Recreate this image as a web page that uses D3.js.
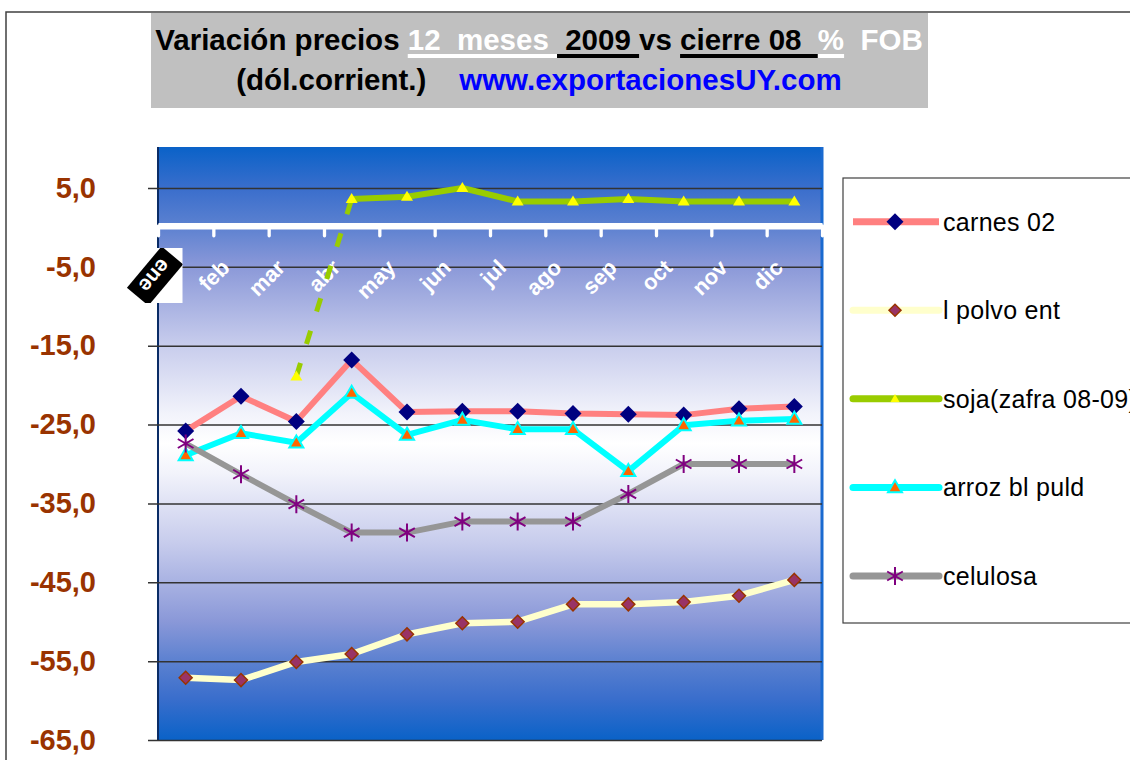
<!DOCTYPE html>
<html lang="es">
<head>
<meta charset="UTF-8">
<title>Variación precios 12 meses 2009 vs cierre 08</title>
<script src="https://d3js.org/d3.v7.min.js"></script>
<style>
    body { margin: 0; background: #fff; }
    svg { display: block; font-family: 'Liberation Sans', Arial, sans-serif; }
</style>
</head>
<body>
<div id="chart"></div>
<script>
    // data (% change, 2009 vs close of 08)
    var months = ['ene', 'feb', 'mar', 'abr', 'may', 'jun', 'jul', 'ago', 'sep', 'oct', 'nov', 'dic'];
    var carnes = [-25.8, -21.4, -24.6, -16.8, -23.4, -23.3, -23.3, -23.6, -23.7, -23.8, -23.0, -22.7];
    var lechePolvo = [-57.1, -57.4, -55.1, -54.1, -51.6, -50.2, -50.0, -47.8, -47.8, -47.5, -46.7, -44.7];
    var soja = [null, null, -18.9, 3.6, 3.9, 5.0, 3.3, 3.3, 3.6, 3.3, 3.3, 3.3];
    var arroz = [-28.9, -26.1, -27.3, -21.0, -26.3, -24.4, -25.6, -25.6, -30.9, -25.1, -24.5, -24.3];
    var celulosa = [-27.4, -31.3, -35.1, -38.7, -38.7, -37.3, -37.3, -37.3, -33.8, -30.0, -30.0, -30.0];
    var seriesNames = ['carnes 02', 'l polvo ent', 'soja(zafra 08-09)', 'arroz bl puld', 'celulosa'];
    var yTicks = [5, -5, -15, -25, -35, -45, -55, -65];
    var yTickLabels = ['5,0', '-5,0', '-15,0', '-25,0', '-35,0', '-45,0', '-55,0', '-65,0'];

    var width = 1130, height = 760;
    var plot = {left: 158, right: 822, top: 147, bottom: 740};

    var svg = d3.select('#chart').append('svg')
        .attr('width', width)
        .attr('height', height);

    // chart frame
    svg.append('rect')
        .attr('x', 6).attr('y', 12)
        .attr('width', 1300).attr('height', 900)
        .attr('fill', '#fff')
        .attr('stroke', '#404040')
        .attr('stroke-width', 1.5);

    // ---- title ----
    svg.append('rect')
        .attr('x', 151).attr('y', 13)
        .attr('width', 777).attr('height', 95)
        .attr('fill', '#c0c0c0');

    var title1 = [
        {t: 'Variación precios ', c: '#000'},
        {t: '12  meses ', c: '#fff', u: '#fff'},
        {t: ' 2009 ', c: '#000', u: '#000'},
        {t: 'vs ', c: '#000'},
        {t: 'cierre 08  ', c: '#000', u: '#000'},
        {t: '%', c: '#fff', u: '#fff'},
        {t: '  FOB', c: '#fff'}
    ];
    var title2 = [
        {t: '(dól.corrient.)    ', c: '#000'},
        {t: 'www.exportacionesUY.com', c: '#0000ff'}
    ];

    function titleLine(parts, y) {
        var txt = svg.append('text')
            .attr('x', 539).attr('y', y)
            .attr('text-anchor', 'middle')
            .attr('xml:space', 'preserve')
            .style('white-space', 'pre')
            .style('font-size', '29.5px')
            .style('font-weight', 'bold');
        txt.selectAll('tspan').data(parts).enter().append('tspan')
            .attr('fill', d => d.c)
            .text(d => d.t);
        // thick underlines like the original
        var node = txt.node(), pos = 0;
        parts.forEach(function(p) {
            if (p.u) {
                var x0 = node.getStartPositionOfChar(pos).x;
                var x1 = node.getEndPositionOfChar(pos + p.t.length - 1).x;
                svg.append('rect')
                    .attr('x', x0).attr('y', y + 4)
                    .attr('width', x1 - x0).attr('height', 4)
                    .attr('fill', p.u);
            }
            pos += p.t.length;
        });
    }
    titleLine(title1, 50);
    titleLine(title2, 90);

    // ---- scales ----
    var x = d3.scaleBand().domain(months).range([plot.left, plot.right]);
    var xc = m => x(m) + x.bandwidth() / 2;
    var xEdge = d3.scaleLinear().domain([0, months.length]).range([plot.left, plot.right]);
    var y = d3.scaleLinear().domain([-65, 10.2]).range([plot.bottom, plot.top]);

    // plot background gradient
    var grad = svg.append('defs').append('linearGradient')
        .attr('id', 'bg').attr('x1', 0).attr('y1', 0).attr('x2', 0).attr('y2', 1);
    [[0, '#0a62c8'], [0.07, '#3a6ecc'], [0.13, '#5a80d0'], [0.2, '#8a98d8'], [0.33, '#c6cbec'],
     [0.45, '#f2f3fb'], [0.5, '#ffffff'], [0.55, '#f2f3fb'], [0.67, '#c6cbec'], [0.8, '#8a98d8'],
     [0.87, '#5a80d0'], [0.93, '#3a6ecc'], [1, '#0a62c8']].forEach(function(s) {
        grad.append('stop').attr('offset', s[0]).attr('stop-color', s[1]);
    });

    svg.append('rect')
        .attr('x', plot.left).attr('y', plot.top)
        .attr('width', plot.right - plot.left).attr('height', plot.bottom - plot.top)
        .attr('fill', 'url(#bg)');
    svg.append('line')
        .attr('x1', plot.right).attr('x2', plot.right)
        .attr('y1', plot.top).attr('y2', plot.bottom)
        .attr('stroke', '#1a6ad0').attr('stroke-width', 3);
    svg.append('line')
        .attr('x1', plot.left).attr('x2', plot.left)
        .attr('y1', plot.top).attr('y2', plot.bottom)
        .attr('stroke', '#0a2c66').attr('stroke-width', 2);

    // y axis with gridlines
    var yAxis = d3.axisLeft(y)
        .tickValues(yTicks)
        .tickSize(-(plot.right - 148))
        .tickPadding(52)
        .tickFormat((d, i) => yTickLabels[i]);
    var gy = svg.append('g')
        .attr('transform', 'translate(148,0)')
        .call(yAxis);
    gy.select('.domain').remove();
    gy.selectAll('.tick line').attr('stroke', '#333').attr('stroke-width', 1.5);
    gy.selectAll('.tick text')
        .attr('fill', '#993300')
        .style('font-size', '29px')
        .style('font-weight', 'bold')
        .style('font-family', "'Liberation Sans', Arial, sans-serif");

    // x axis: thick white line at 0 with ticks between categories
    var xAxis = d3.axisBottom(xEdge)
        .tickValues(d3.range(months.length + 1))
        .tickSize(10)
        .tickSizeOuter(0)
        .tickFormat('');
    var gx = svg.append('g')
        .attr('transform', 'translate(0,' + (y(0) - 1.6) + ')')
        .call(xAxis);
    gx.select('.domain').attr('stroke', '#fff').attr('stroke-width', 6.5);
    gx.selectAll('.tick line')
        .attr('stroke', '#fff').attr('stroke-width', 3.3).attr('stroke-linecap', 'round');

    // month labels
    svg.append('g').selectAll('text')
        .data(months.slice(1))
        .enter().append('text')
        .attr('text-anchor', 'end')
        .attr('transform', d => 'translate(' + (xc(d) - 10) + ',269) rotate(-45)')
        .attr('fill', '#fff')
        .style('font-size', '22px')
        .style('font-weight', 'bold')
        .text(d => d);

    // the first label is shown highlighted (black box)
    var eneX = plot.left - 3;
    svg.append('rect')
        .attr('x', eneX).attr('y', 248)
        .attr('width', 27.5).attr('height', 55)
        .attr('fill', '#fff');
    svg.append('clipPath').attr('id', 'eneclip')
        .append('rect').attr('x', 100).attr('y', 248).attr('width', eneX + 27.5 - 100).attr('height', 55);
    var ene = svg.append('g').attr('clip-path', 'url(#eneclip)')
        .append('g').attr('transform', 'translate(' + eneX + ',276) rotate(-50)');
    ene.append('rect')
        .attr('x', -27).attr('y', -14).attr('width', 54).attr('height', 28)
        .attr('fill', '#000');
    ene.append('text')
        .attr('transform', 'rotate(180)')
        .attr('text-anchor', 'middle')
        .attr('dy', '0.36em')
        .attr('fill', '#fff')
        .style('font-size', '21px')
        .style('font-weight', 'bold')
        .text(months[0]);

    // ---- markers ----
    function diamond(r) { return 'M0,' + (-r) + 'L' + r + ',0L0,' + r + 'L' + (-r) + ',0Z'; }
    function triangle(w, h) { return 'M0,' + (-h * 0.6) + 'L' + (w / 2) + ',' + (h * 0.4) + 'L' + (-w / 2) + ',' + (h * 0.4) + 'Z'; }
    function asterisk(r) {
        var a = r * 0.87, b = r * 0.5;
        return 'M0,' + (-r) + 'V' + r + 'M' + (-a) + ',' + (-b) + 'L' + a + ',' + b + 'M' + (-a) + ',' + b + 'L' + a + ',' + (-b);
    }

    var styles = [
        {line: '#ff8080', cap: 'butt', marker: diamond(8.5), fill: '#000080', stroke: 'none', sw: 0, legendMarker: diamond(8.5)},
        {line: '#ffffcc', cap: 'round', marker: diamond(6.5), fill: '#993366', stroke: '#993300', sw: 1.5, legendMarker: diamond(6)},
        {line: '#99cc00', cap: 'round', marker: triangle(12, 10), fill: '#ffff00', stroke: 'none', sw: 0, legendMarker: triangle(9, 8)},
        {line: '#00ffff', cap: 'round', marker: triangle(14, 12), fill: '#ff6600', stroke: '#00ffff', sw: 2, legendMarker: triangle(14, 12)},
        {line: '#969696', cap: 'round', marker: asterisk(9), fill: 'none', stroke: '#800080', sw: 2, legendMarker: asterisk(9)}
    ];
    var seriesData = [carnes, lechePolvo, soja, arroz, celulosa];

    var line = d3.line()
        .defined(d => d.v != null)
        .x(d => xc(d.m))
        .y(d => y(d.v));

    seriesData.forEach(function(values, i) {
        var st = styles[i];
        var pts = values.map((v, j) => ({m: months[j], v: v}));
        var g = svg.append('g').attr('class', 'series');
        if (i === 2) {
            // soja: first month joined with a dashed segment
            g.append('path')
                .attr('d', line(pts.slice(2, 4)))
                .attr('fill', 'none')
                .attr('stroke', st.line)
                .attr('stroke-width', 5)
                .attr('stroke-dasharray', '14,20');
            g.append('path')
                .attr('d', line(pts.slice(3)))
                .attr('fill', 'none')
                .attr('stroke', st.line)
                .attr('stroke-width', 6)
                .attr('stroke-linejoin', 'round');
        } else {
            g.append('path')
                .attr('d', line(pts))
                .attr('fill', 'none')
                .attr('stroke', st.line)
                .attr('stroke-width', i === 1 ? 6.5 : 6)
                .attr('stroke-linejoin', 'round');
        }
        g.selectAll('path.mk')
            .data(pts.filter(d => d.v != null))
            .enter().append('path')
            .attr('class', 'mk')
            .attr('transform', d => 'translate(' + xc(d.m) + ',' + y(d.v) + ')')
            .attr('d', st.marker)
            .attr('fill', st.fill)
            .attr('stroke', st.stroke)
            .attr('stroke-width', st.sw);
    });

    // ---- legend ----
    var lg = svg.append('g');
    lg.append('rect')
        .attr('x', 843).attr('y', 178)
        .attr('width', 400).attr('height', 445)
        .attr('fill', '#fff')
        .attr('stroke', '#404040')
        .attr('stroke-width', 1.2);

    var rowY = d3.scalePoint().domain(seriesNames).range([221.7, 576]);
    var items = lg.selectAll('.legend').data(seriesNames)
        .enter().append('g')
        .attr('class', 'legend')
        .attr('transform', d => 'translate(0,' + rowY(d) + ')');
    items.append('line')
        .attr('x1', 853).attr('x2', 939)
        .attr('stroke', (d, i) => styles[i].line)
        .attr('stroke-width', 7)
        .attr('stroke-linecap', (d, i) => styles[i].cap);
    items.append('path')
        .attr('transform', 'translate(895,0)')
        .attr('d', (d, i) => styles[i].legendMarker)
        .attr('fill', (d, i) => styles[i].fill)
        .attr('stroke', (d, i) => styles[i].stroke)
        .attr('stroke-width', (d, i) => styles[i].sw);
    items.append('text')
        .attr('x', 943).attr('y', 9)
        .style('font-size', '25px')
        .style('letter-spacing', '0.3px')
        .attr('fill', '#000')
        .text(d => d);
</script>
</body>
</html>
